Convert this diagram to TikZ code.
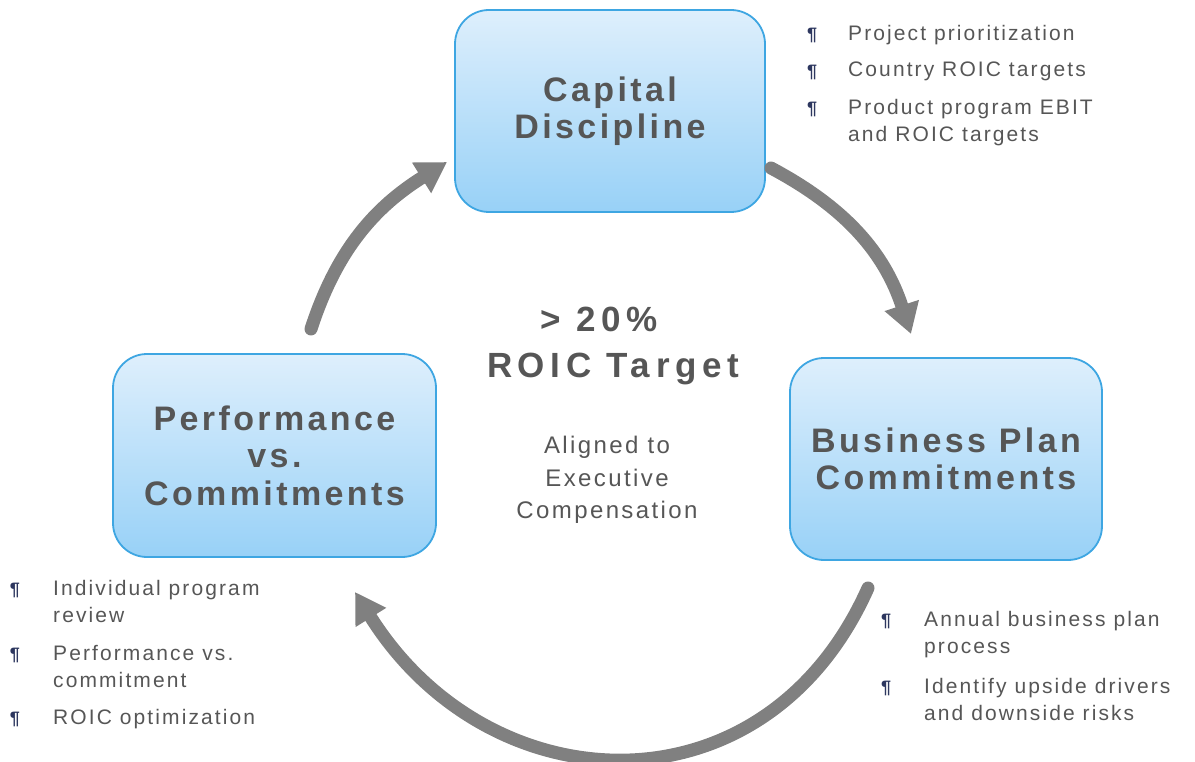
\documentclass[tikz,border=0pt]{standalone}
\usepackage{fontspec}
\setmainfont{Liberation Sans}
\newfontfamily\headfont{Liberation Sans}[LetterSpace=10]
\newfontfamily\targetfont{Liberation Sans}[LetterSpace=16]
\newfontfamily\bodyfont{Liberation Sans}[LetterSpace=10]
\usetikzlibrary{arrows.meta}
\definecolor{boxtop}{RGB}{222,239,252}
\definecolor{boxbottom}{RGB}{152,209,247}
\definecolor{boxline}{RGB}{62,166,226}
\definecolor{textgray}{RGB}{86,86,86}
\definecolor{arrowgray}{RGB}{128,128,128}
\definecolor{bulletblue}{RGB}{45,55,95}
\begin{document}
\begin{tikzpicture}[x=1pt,y=-1pt,
    stage/.style ={rectangle, rounded corners=34pt, draw=boxline, line width=1.8pt,
      top color=boxtop, bottom color=boxbottom, minimum width=310pt, minimum height=202pt,
      align=center, text=textgray, font=\headfont\bfseries\fontsize{34}{37.5}\selectfont},
    target/.style ={align=center, text=textgray, font=\targetfont\bfseries\fontsize{35}{46}\selectfont},
    note/.style ={align=center, text=textgray, font=\bodyfont\fontsize{24}{32.5}\selectfont},
    point/.style ={anchor=north west, inner sep=0pt, align=left, text=textgray,
      font=\bodyfont\fontsize{21}{27}\selectfont},
    pilcrow/.style ={inner sep=0pt, text=bulletblue, font=\bfseries\fontsize{18}{18}\selectfont},
    cycle/.style ={line width=13pt, draw=arrowgray, line cap=round,
      -{Triangle[width=34pt,length=30pt]}}]
   \useasboundingbox (0,0) rectangle (1195,762);

   \node[stage] (capital) at (610,111) {Capital\\Discipline};
   \node[stage, minimum width=312pt] (business) at (946,459) {Business Plan\\Commitments};
   \node[stage, minimum width=323pt, minimum height=203pt] (perf) at (274.5,455.5) {Performance\\vs.\\Commitments};

   \node[target] (roic) at (613,346) {> 20\%\hspace*{28pt}\\ROIC Target};
   \node[note] (aligned) at (607,480) {Aligned to\\Executive\\Compensation};

   \node[pilcrow] (cd1) at (812,35) {¶};
   \node[pilcrow] (cd2) at (812,72) {¶};
   \node[pilcrow] (cd3) at (812,109) {¶};
   \node[point] (cdt1) at (848,25) {Project prioritization};
   \node[point] (cdt2) at (848,62) {Country ROIC targets};
   \node[point] (cdt3) at (848,99) {Product program EBIT\\and ROIC targets};

   \node[pilcrow] (bp1) at (886,621) {¶};
   \node[pilcrow] (bp2) at (886,688) {¶};
   \node[point] (bpt1) at (924,611) {Annual business plan\\process};
   \node[point] (bpt2) at (924,678) {Identify upside drivers\\and downside risks};

   \node[pilcrow] (pc1) at (15,590) {¶};
   \node[pilcrow] (pc2) at (15,655) {¶};
   \node[pilcrow] (pc3) at (15,719) {¶};
   \node[point] (pct1) at (53,580) {Individual program\\review};
   \node[point] (pct2) at (53,645) {Performance vs.\\commitment};
   \node[point] (pct3) at (53,709) {ROIC optimization};

   \coordinate (up-start) at (311,329);
   \coordinate (up-end) at (447,162);
   \coordinate (down-start) at (771,168);
   \coordinate (down-end) at (911,334);
   \coordinate (back-start) at (868,588);
   \coordinate (back-end) at (355,592);

   \draw[cycle] (up-start) to[out=72, in=212] (up-end);
   \draw[cycle] (down-start) to[out=-28, in=108] (down-end);
   \draw[cycle] (back-start) to[out=-114, in=-58, looseness=1.26] (back-end);
 \end{tikzpicture}
\end{document}
